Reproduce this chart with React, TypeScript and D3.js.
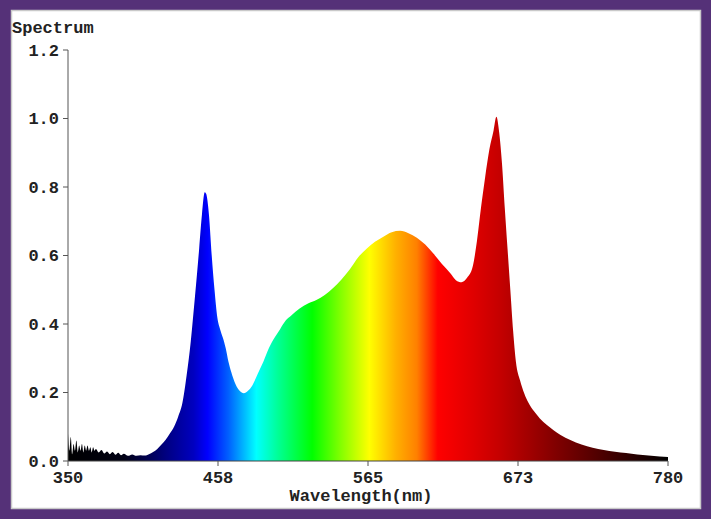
import React from "react";
import * as d3 from "d3";

const wavelengths = [
  350, 351, 352, 353, 354, 355, 356, 357, 358, 359, 360, 361, 362, 363, 364, 365, 366, 367, 368, 369, 370,
  372, 374, 376, 378, 380, 382, 384, 386, 388, 390, 393, 396, 399, 402, 405, 408, 411, 414, 417, 420, 423,
  426, 429, 432, 435, 438, 441, 444, 446, 448, 449, 451, 453, 455, 457, 459, 461, 463, 465, 467, 470, 473,
  476, 479, 482, 486, 490, 494, 498, 502, 506, 510, 516, 522, 528, 534, 540, 546, 552, 558, 564, 570, 576,
  582, 588, 594, 600, 606, 612, 618, 624, 628, 632, 636, 640, 643, 646, 649, 652, 655, 657, 659, 661, 663,
  665, 667, 669, 671, 674, 677, 680, 684, 688, 693, 698, 703, 710, 718, 726, 734, 742, 750, 758, 766, 774, 780,
];
const intensity = [
  0.08, 0.03, 0.07, 0.02, 0.05, 0.03, 0.06, 0.025, 0.045, 0.03, 0.05, 0.025, 0.045, 0.03, 0.045, 0.03, 0.04, 0.025, 0.04, 0.03, 0.035,
  0.025, 0.032, 0.022, 0.028, 0.02, 0.026, 0.018, 0.024, 0.017, 0.021, 0.015, 0.019, 0.015, 0.017, 0.016, 0.02, 0.026, 0.035, 0.048, 0.062, 0.08,
  0.1, 0.13, 0.17, 0.25, 0.35, 0.48, 0.62, 0.72, 0.785, 0.78, 0.72, 0.6, 0.5, 0.42, 0.385, 0.36, 0.33, 0.29, 0.26, 0.225, 0.205,
  0.198, 0.205, 0.22, 0.255, 0.29, 0.33, 0.36, 0.385, 0.41, 0.425, 0.445, 0.46, 0.47, 0.485, 0.505, 0.53, 0.56, 0.595, 0.62, 0.64, 0.655,
  0.668, 0.672, 0.665, 0.652, 0.632, 0.605, 0.575, 0.548, 0.528, 0.522, 0.535, 0.567, 0.64, 0.74, 0.83, 0.91, 0.965, 1.005, 0.96, 0.87, 0.74,
  0.62, 0.5, 0.38, 0.29, 0.235, 0.197, 0.17, 0.145, 0.125, 0.106, 0.09, 0.076, 0.061, 0.048, 0.039, 0.032, 0.027, 0.023, 0.019, 0.016, 0.013, 0.012,
];

const xTickValues = [350, 457.5, 565, 672.5, 780];
const xTickLabels = ["350", "458", "565", "673", "780"];
const yTickValues = [0, 0.2, 0.4, 0.6, 0.8, 1.0, 1.2];
const yTickLabels = ["0.0", "0.2", "0.4", "0.6", "0.8", "1.0", "1.2"];

const gradientWl = [350, 390, 420, 440, 450, 465, 485, 500, 525, 545, 566, 585, 600, 615, 640, 660, 700, 740, 780];
const gradientColors = [
  "#000000", "#000014", "#000080", "#0000c0", "#0000ff", "#0060ff", "#00ffff", "#00ff99", "#00ff00",
  "#80ff00", "#ffff00", "#ffb000", "#ff8000", "#ff0000", "#e00000", "#c40000", "#800000", "#400000", "#000000",
];

const W = 711;
const H = 519;
const FONT = "'Liberation Mono', 'Courier New', monospace";
const FS = 17;

export default function App() {
  const x = d3.scaleLinear().domain([350, 780]).range([68, 668]);
  const y = d3.scaleLinear().domain([0, 1.2]).range([461, 50]);
  const pts = wavelengths.map((w, i) => [w, intensity[i]] as [number, number]);
  const area = d3
    .area<[number, number]>()
    .x((d) => x(d[0]))
    .y0(y(0))
    .y1((d) => y(d[1]))
    .curve(d3.curveMonotoneX);
  const gx0 = x(350);
  const gx1 = x(780);
  return (
    <div style={{ position: "fixed", left: 0, top: 0, width: W, height: H }}>
      <svg width={W} height={H} style={{ display: "block" }}>
        <defs>
          <linearGradient id="spec" gradientUnits="userSpaceOnUse" x1={gx0} x2={gx1} y1={0} y2={0}>
            {gradientWl.map((w, i) => (
              <stop key={i} offset={(x(w) - gx0) / (gx1 - gx0)} stopColor={gradientColors[i]} />
            ))}
          </linearGradient>
        </defs>
        <rect x={0} y={0} width={W} height={H} fill="#553178" />
        <rect x={11.5} y={10.5} width={689} height={498} fill="#ffffff" stroke="#c9c9c9" strokeWidth={1.5} />
        <path d={area(pts) || ""} fill="url(#spec)" />
        {/* y axis */}
        <line x1={68} x2={68} y1={y(1.2)} y2={y(0)} stroke="#555" strokeWidth={1} />
        {yTickValues.map((v, i) => (
          <g key={i}>
            <line x1={63} x2={68} y1={y(v)} y2={y(v)} stroke="#555" />
            <text
              x={59}
              y={y(v)}
              dy="0.35em"
              textAnchor="end"
              fontFamily={FONT}
              fontWeight="bold"
              fontSize={FS}
              fill="#222"
            >
              {yTickLabels[i]}
            </text>
          </g>
        ))}
        {/* x axis */}
        <line x1={x(350)} x2={x(780)} y1={y(0)} y2={y(0)} stroke="#444" strokeWidth={1} />
        {xTickValues.map((v, i) => (
          <g key={i}>
            <line x1={x(v)} x2={x(v)} y1={y(0)} y2={y(0) + 5} stroke="#555" />
            <text
              x={x(v)}
              y={483}
              textAnchor="middle"
              fontFamily={FONT}
              fontWeight="bold"
              fontSize={FS}
              fill="#222"
            >
              {xTickLabels[i]}
            </text>
          </g>
        ))}
        <text x={12} y={33} fontFamily={FONT} fontWeight="bold" fontSize={FS} fill="#222">
          Spectrum
        </text>
        <text x={361} y={501} textAnchor="middle" fontFamily={FONT} fontWeight="bold" fontSize={FS} fill="#222">
          Wavelength(nm)
        </text>
      </svg>
    </div>
  );
}
